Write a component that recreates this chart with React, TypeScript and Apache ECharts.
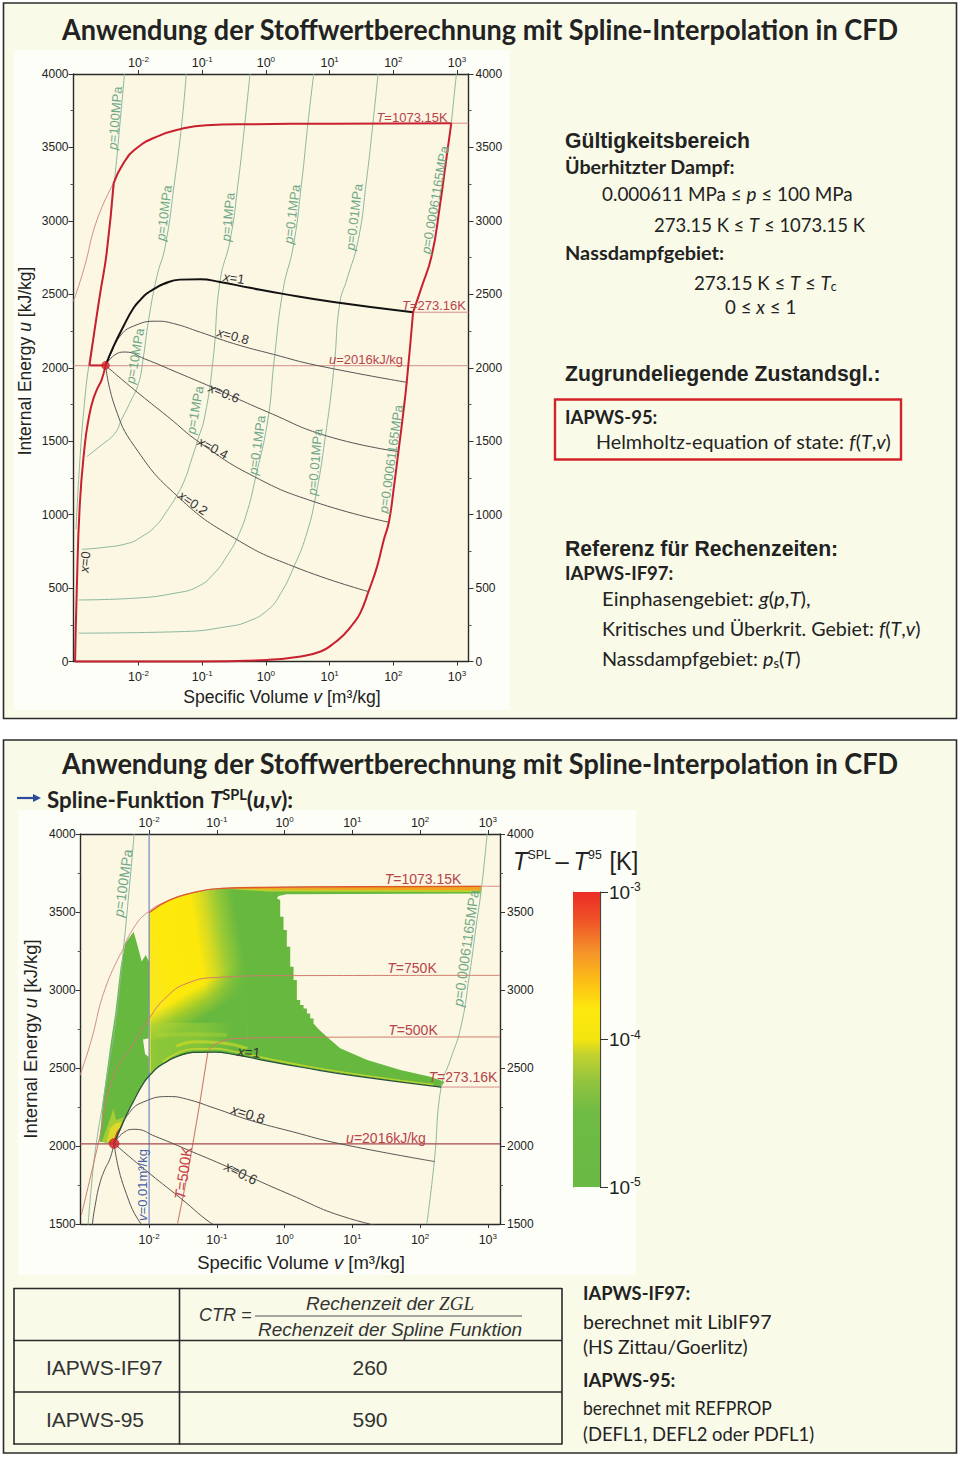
import React, { useEffect, useRef } from "react";
import * as echarts from "echarts";

type P = [number, number];

// tick lists
const decades = [-2, -1, 0, 1, 2, 3];
const colorDecades = [-5, -4, -3];

// all curves are [log10(v), u]
const t1073Liquid: P[] = [[-3.02, 2453], [-2.86, 2668], [-2.65, 3008], [-2.39, 3257]];
const t1073Hot: P[] = [[-2.39, 3257], [-2.235, 3393], [-2.03, 3495], [-1.71, 3574], [-1.35, 3624], [-0.93, 3651], [-0.25, 3658], [1.06, 3662], [2.91, 3665]];
const t1073Far: P[] = [[2.91, 3665], [3.18, 3665]];
const t750: P[] = [[-3.0, 1558], [-2.75, 2017], [-2.53, 2444], [-2.23, 2658], [-2, 2818], [-1.74, 2957], [-1.44, 3043], [-0.98, 3081], [-0.015, 3092], [3.18, 3094]];
const t500Wet: P[] = [[-1.58, 1504], [-1.37, 1974], [-1.13, 2610]];
const t500Vapor: P[] = [[-1.13, 2610], [-1.0, 2658], [-0.66, 2690], [0.23, 2697], [3.18, 2699]];
const t273: P[] = [[2.31, 2378], [3.18, 2378]];
const u2016: P[] = [[-3.02, 2014], [3.18, 2014]];
const v001: P[] = [[-2, 1500], [-2, 4000]];
const boundaryLeft: P[] = [[-2.39, 3257], [-2.5, 2781], [-2.6, 2510], [-2.68, 2283], [-2.77, 2016]];
const boundaryFlat: P[] = [[-2.77, 2016], [-2.517, 2016]];
const boundaryBottom: P[] = [[-2.995, 0], [-1.02, 0], [0.03, 11], [0.55, 34], [0.86, 68], [1.04, 115], [1.22, 181], [1.36, 252], [1.48, 329], [1.61, 476], [1.745, 646], [1.85, 828], [1.93, 948], [2.01, 1190], [2.08, 1429], [2.15, 1670], [2.21, 1900], [2.31, 2378]];
const boundaryRight: P[] = [[2.31, 2378], [2.44, 2544], [2.6, 2759], [2.73, 3099], [2.83, 3416], [2.91, 3665]];
const x0: P[] = [[-2.517, 2016], [-2.58, 1916], [-2.656, 1848], [-2.73, 1757], [-2.786, 1644], [-2.84, 1485], [-2.92, 1077], [-2.97, 465], [-2.995, 0]];
const x02: P[] = [[-2.517, 2016], [-2.37, 1735], [-2.06, 1463], [-1.38, 1122], [-0.49, 839], [0.44, 646], [1.61, 476]];
const x04: P[] = [[-2.517, 2016], [-2.06, 1848], [-1.54, 1667], [-1.02, 1485], [-0.18, 1258], [0.755, 1088], [1.93, 948]];
const x06: P[] = [[-2.517, 2016], [-2.38, 2085], [-2.21, 2107], [-1.9, 2060], [-1.37, 1964], [-0.85, 1868], [0.02, 1700], [0.96, 1535], [2.08, 1429]];
const x08: P[] = [[-2.517, 2016], [-2.44, 2090], [-2.29, 2215], [-2.08, 2283], [-1.71, 2317], [-1.45, 2301], [-1.03, 2242], [-0.51, 2165], [0.12, 2091], [0.8, 2016], [2.22, 1900]];
const x1: P[] = [[-2.517, 2016], [-2.39, 2147], [-2.235, 2283], [-2.08, 2405], [-1.97, 2462], [-1.87, 2505], [-1.74, 2540], [-1.61, 2570], [-1.35, 2600], [-1.03, 2602], [-0.72, 2584], [-0.25, 2544], [0.27, 2503], [1.06, 2448], [2.31, 2378]];
const p100: P[] = [[-2.22, 4000], [-2.29, 3665], [-2.37, 3302], [-2.5, 2781], [-2.6, 2510], [-2.68, 2283], [-2.78, 2016], [-2.85, 1750], [-2.92, 1370], [-2.98, 900]];
const p10: P[] = [[-1.25, 4000], [-1.32, 3665], [-1.43, 3280], [-1.58, 2827], [-1.71, 2623], [-1.84, 2329], [-1.93, 2052], [-2.0, 1893], [-2.14, 1757], [-2.27, 1644], [-2.37, 1553], [-2.58, 1474], [-2.81, 1395]];
const p1: P[] = [[-0.25, 4000], [-0.33, 3665], [-0.43, 3280], [-0.56, 2872], [-0.72, 2590], [-0.83, 2052], [-0.96, 1667], [-1.07, 1508], [-1.17, 1372], [-1.276, 1236], [-1.41, 1122], [-1.56, 1020], [-1.74, 918], [-1.95, 850], [-2.16, 805], [-2.58, 775], [-2.89, 764]];
const p01: P[] = [[0.75, 4000], [0.66, 3665], [0.56, 3257], [0.43, 2827], [0.27, 2533], [0.13, 2052], [0.03, 1644], [-0.16, 1258], [-0.286, 1032], [-0.44, 850], [-0.6, 726], [-0.81, 601], [-1.07, 510], [-1.43, 465], [-2.06, 431], [-2.94, 419]];
const p001: P[] = [[1.76, 4000], [1.68, 3665], [1.58, 3280], [1.45, 2872], [1.27, 2600], [1.16, 2442], [1.07, 2007], [0.94, 1553], [0.78, 1122], [0.625, 850], [0.44, 646], [0.234, 465], [0.03, 351], [-0.286, 272], [-0.6, 238], [-1.28, 204], [-2.94, 193]];
const pTripleTop: P[] = [[2.99, 4000], [2.91, 3665]];
const pTripleAll: P[] = [[2.99, 4000], [2.91, 3665], [2.83, 3416], [2.73, 3099], [2.6, 2759], [2.44, 2544], [2.31, 2378], [2.21, 1900], [2.1, 1500]];
const criticalPoint: P[] = [[-2.517, 2016]];

// error map outlines
const heatLobe: P[] = [[-2.23, 3374], [-2.35, 3300], [-2.42, 3150], [-2.5, 2850], [-2.575, 2637], [-2.674, 2316], [-2.733, 2028], [-2.517, 2016], [-2.39, 2147], [-2.235, 2283], [-2.08, 2405], [-2, 2450], [-2.005, 2570], [-2.06, 2590], [-2.09, 2683], [-2.005, 2690], [-2.0, 3180], [-2.05, 3224], [-2.11, 3182], [-2.18, 3300]];
const heatMain: P[] = [[-2, 3495], [-1.71, 3574], [-1.35, 3624], [-0.93, 3651], [-0.25, 3658], [1.06, 3662], [2.9, 3664], [2.9, 3618], [0.03, 3613], [-0.09, 3602], [-0.114, 3587], [-0.065, 3577], [-0.065, 3470], [-0.016, 3470], [-0.016, 3384], [0.033, 3384], [0.033, 3278], [0.083, 3278], [0.083, 3149], [0.132, 3149], [0.132, 3064], [0.181, 3064], [0.181, 2936], [0.23, 2936], [0.23, 2904], [0.28, 2904], [0.28, 2882], [0.329, 2882], [0.329, 2850], [0.378, 2850], [0.378, 2818], [0.427, 2818], [0.427, 2786], [0.5, 2750], [0.624, 2701], [0.82, 2626], [1.22, 2551], [1.71, 2487], [2.15, 2444], [2.36, 2412], [2.31, 2378], [1.06, 2448], [0.27, 2503], [-0.25, 2544], [-0.72, 2584], [-1.03, 2602], [-1.35, 2600], [-1.61, 2570], [-1.87, 2505], [-2, 2450]];
const heatYellow: P[] = [[-2, 3495], [-1.71, 3574], [-1.35, 3624], [-0.93, 3651], [-0.55, 3655], [-0.55, 2680], [-2, 2680]];
const heatYellowAnchors: P[] = [[-2, 3299], [-0.67, 3397]];
const heatFade: P[] = [[-2, 2844], [-0.55, 3201], [-0.55, 2590], [-1.03, 2602], [-1.35, 2600], [-1.61, 2570], [-1.87, 2505], [-2, 2450]];
const heatFadeAnchors: P[] = [[-1.54, 2957], [-1.32, 2790]];
const heatPale: P[] = [[-2, 2790], [-0.75, 2790], [-0.75, 2600], [-1.03, 2610], [-1.35, 2610], [-1.61, 2580], [-1.87, 2515], [-2, 2460]];
const heatPaleAnchors: P[] = [[-2, 2700], [-0.75, 2700]];
const stripYellow: P[] = [[-0.95, 3650], [-0.25, 3656], [2.9, 3655], [2.9, 3628], [-0.25, 3632]];
const stripOrange: P[] = [[-0.95, 3652], [-0.25, 3660], [2.9, 3664], [2.9, 3640], [-0.25, 3645]];
const lobeYellowOuter: P[] = [[-2.699, 2028], [-2.6, 2145], [-2.527, 2241], [-2.487, 2167], [-2.354, 2188], [-2.404, 2124], [-2.478, 2049], [-2.527, 2017]];
const lobeYellowInner: P[] = [[-2.625, 2028], [-2.576, 2113], [-2.502, 2145], [-2.404, 2156], [-2.453, 2081], [-2.517, 2021]];
const lobeRed: P[] = [[-2.537, 2021], [-2.478, 2092], [-2.418, 2124], [-2.453, 2070], [-2.502, 2017]];
const rimX1: P[] = [[-1.8, 2540], [-1.6, 2592], [-1.35, 2622], [-1.03, 2624], [-0.72, 2604], [-0.25, 2560], [0.27, 2516], [1.06, 2460], [2.2, 2392]];
const rimPeak: P[] = [[-1.6, 2640], [-1.3, 2668], [-0.95, 2662], [-0.55, 2625]];
const rimBand: P[] = [[-1.9, 2711], [-1.4, 2716], [-0.85, 2711]];
const rimEdge: P[] = [[-1.99, 2470], [-1.99, 2840]];
const t1073Tint: P[] = [[-2, 3495], [-1.71, 3574], [-1.35, 3624], [-0.93, 3651], [-0.25, 3658], [1.06, 3662], [2.9, 3664]];
const colorBarBox: P[] = [[0, -5], [1, -5], [1, -3], [0, -3]];

const ARIAL = "'Liberation Sans', Arial, sans-serif";
const CALIBRI = "Lato, 'Noto Sans', sans-serif";
const RED = "#C9202F";
const THIN_RED = "#D38D88";
const GREEN = "#8DB89E";
const GREEN_TXT = "#6FA887";
const RED_TXT = "#B8434B";
const HEAT_GREEN = "#66B83F";

const txt = (text: string, x: number, y: number, o: any = {}) => ({
  type: "text",
  x,
  y,
  z: 20,
  rotation: ((o.rot || 0) * Math.PI) / 180,
  scaleX: o.sx || 1,
  silent: true,
  style: {
    text,
    fontFamily: o.font || ARIAL,
    fontSize: o.size || 13,
    fontWeight: o.bold ? "bold" : "normal",
    fontStyle: o.italic ? "italic" : "normal",
    fill: o.color || "#222",
    align: o.align || "left",
    verticalAlign: "middle",
    rich: o.rich,
  },
});

const it = (size: number, font = ARIAL, color = "#222", bold = false) => ({
  i: { fontStyle: "italic", fontSize: size, fontFamily: font, fill: color, color, fontWeight: bold ? "bold" : "normal" },
});

const varLabel = (t: string, x: number, y: number, color: string, rot = 0, size = 13) =>
  txt(`{i|${t[0]}}${t.slice(1)}`, x, y, { color, rot, size, align: "center", rich: it(size, ARIAL, color) });

const curveLabels1 = [
  varLabel("p=100MPa", 115, 118, GREEN_TXT, 85), varLabel("p=10MPa", 164, 213, GREEN_TXT, 83),
  varLabel("p=1MPa", 228, 217, GREEN_TXT, 85), varLabel("p=0.1MPa", 292, 214, GREEN_TXT, 83),
  varLabel("p=0.01MPa", 354, 217, GREEN_TXT, 83), varLabel("p=0.00061165MPa", 435, 200, GREEN_TXT, 80),
  varLabel("p=10MPa", 135, 356, GREEN_TXT, 80), varLabel("p=1MPa", 195, 410, GREEN_TXT, 80),
  varLabel("p=0.1MPa", 257, 445, GREEN_TXT, 82), varLabel("p=0.01MPa", 315, 462, GREEN_TXT, 85),
  varLabel("p=0.00061165MPa", 391, 459, GREEN_TXT, 82),
  varLabel("T=1073.15K", 412, 117, RED_TXT), varLabel("T=273.16K", 434, 305, RED_TXT),
  varLabel("u=2016kJ/kg", 366, 359, RED_TXT),
  varLabel("x=1", 234, 278, "#333", -8), varLabel("x=0.8", 233, 336, "#333", -15),
  varLabel("x=0.6", 224, 393, "#333", -22), varLabel("x=0.4", 213, 448, "#333", -28),
  varLabel("x=0.2", 193, 503, "#333", -35), varLabel("x=0", 85, 562, "#333", 85),
];
const curveLabels2 = [
  varLabel("p=100MPa", 123, 883, GREEN_TXT, 82, 14), varLabel("p=0.00061165MPa", 466, 948, GREEN_TXT, 82, 14),
  varLabel("T=1073.15K", 423, 879, RED_TXT, 0, 14), varLabel("T=750K", 412, 968, RED_TXT, 0, 14),
  varLabel("T=500K", 413, 1030, RED_TXT, 0, 14), varLabel("T=273.16K", 463, 1077, RED_TXT, 0, 14),
  varLabel("x=1", 249, 1052, "#333", -5, 14), varLabel("x=0.8", 248, 1114, "#333", -18, 14),
  varLabel("x=0.6", 241, 1173, "#333", -27, 14), varLabel("u=2016kJ/kg", 386, 1138, RED_TXT, 0, 14),
  txt("{i|v}=0.01m³/kg", 142, 1185, { color: "#4A5FA8", rot: 90, size: 13, align: "center", rich: it(13, ARIAL, "#4A5FA8") }),
  varLabel("T=500K", 183, 1173, "#C8414A", 82, 15),
];

const rule = (x1p: number, y1p: number, x2p: number, y2p: number, stroke = "#2a2a2a", w = 1.6) => ({
  type: "line", z: 5, silent: true, shape: { x1: x1p, y1: y1p, x2: x2p, y2: y2p }, style: { stroke, lineWidth: w },
});

const cal = (t: string, x: number, y: number, o: any = {}) => {
  const size = o.size || 19.5;
  return txt(t, x, y - 1, {
    font: CALIBRI, size, sx: o.sx || 0.95, bold: o.bold, color: "#222",
    rich: {
      i: { fontStyle: "italic", fontFamily: CALIBRI, fontSize: size, fill: "#222", color: "#222", fontWeight: o.bold ? "bold" : "normal" },
      s: { fontFamily: CALIBRI, fontSize: size * 0.65, fill: "#222", color: "#222", fontWeight: o.bold ? "bold" : "normal", padding: [0, 0, 10, 0] },
      d: { fontFamily: CALIBRI, fontSize: size * 0.65, fill: "#222", color: "#222", padding: [8, 0, 0, 0] },
    },
  });
};

const backdrop = (x: number, y: number, w: number, h: number, fill: string, stroke?: string, lw = 1.5) => ({
  type: "rect", z: -5, silent: true, shape: { x, y, width: w, height: h }, style: { fill, stroke, lineWidth: lw },
});

const graphics: any[] = [
  backdrop(3.5, 3, 953, 715.5, "#F9FAE8", "#2b2b2b", 1.6),
  backdrop(3.5, 740, 953, 713, "#F9FAE8", "#2b2b2b", 1.6),
  backdrop(14, 50, 496, 660, "#FDFEF7"),
  backdrop(18, 810, 618, 465, "#FDFEF7"),
  txt("Anwendung der Stoffwertberechnung mit Spline-Interpolation in CFD", 62, 29, { font: CALIBRI, size: 28.5, bold: true, sx: 0.95 }),
  txt("Anwendung der Stoffwertberechnung mit Spline-Interpolation in CFD", 62, 763, { font: CALIBRI, size: 28.5, bold: true, sx: 0.95 }),
  txt("Gültigkeitsbereich", 565, 140, { size: 21.2, bold: true }),
  cal("Überhitzter Dampf:", 565, 168, { bold: true, sx: 1.01 }),
  cal("0.000611 MPa ≤ {i|p} ≤ 100 MPa", 602, 194, { sx: 0.968 }),
  cal("273.15 K ≤ {i|T} ≤ 1073.15 K", 654, 225, { sx: 0.948 }),
  cal("Nassdampfgebiet:", 565, 254, { bold: true, sx: 1.02 }),
  cal("273.15 K ≤ {i|T} ≤ {i|T}{d|c}", 694, 283, { sx: 0.957 }),
  cal("0 ≤ {i|x} ≤ 1", 725, 307, { sx: 0.96 }),
  txt("Zugrundeliegende Zustandsgl.:", 565, 373, { size: 21.2, bold: true }),
  { type: "rect", z: 5, silent: true, shape: { x: 555, y: 399.5, width: 346, height: 60 }, style: { fill: "none", stroke: "#D2232A", lineWidth: 2.4 } },
  cal("IAPWS-95:", 565, 417, { bold: true, sx: 0.95 }),
  cal("Helmholtz-equation of state: {i|f}({i|T},{i|v})", 596, 443, { sx: 1.012 }),
  txt("Referenz für Rechenzeiten:", 565, 548, { size: 21.2, bold: true }),
  cal("IAPWS-IF97:", 565, 573, { bold: true, sx: 0.95 }),
  cal("Einphasengebiet: {i|g}({i|p},{i|T}),", 602, 599, { sx: 1.04 }),
  cal("Kritisches und Überkrit. Gebiet: {i|f}({i|T},{i|v})", 602, 630, { sx: 1.009 }),
  cal("Nassdampfgebiet: {i|p}{d|s}({i|T})", 602, 660, { sx: 1.017 }),
  txt("Specific Volume {i|v} [m³/kg]", 282, 697, { size: 17.6, align: "center", rich: it(17.6) }),
  txt("Internal Energy {i|u} [kJ/kg]", 25, 361, { size: 17.5, align: "center", rot: 90, rich: it(17.5) }),
  txt("Specific Volume {i|v} [m³/kg]", 301, 1262, { size: 18.5, align: "center", rich: it(18.5) }),
  txt("Internal Energy {i|u} [kJ/kg]", 30, 1039, { size: 18.5, align: "center", rot: 90, rich: it(18.5) }),
  rule(17, 798, 37, 798, "#2B4C9B", 2.2),
  { type: "polygon", z: 5, silent: true, shape: { points: [[33, 794], [41, 798], [33, 802]] }, style: { fill: "#2B4C9B" } },
  cal("Spline-Funktion {i|T}{s|SPL}({i|u},{i|v}):", 47, 800, { bold: true, size: 23.5, sx: 0.95 }),
  txt("{t|T}{s|SPL}{m|–}{t|T}{s|95}{k|[K]}", 513, 861, {
    size: 25, sx: 0.95,
    rich: {
      t: { fontStyle: "italic", fontFamily: ARIAL, fontSize: 25, fill: "#222", color: "#222" },
      s: { fontFamily: ARIAL, fontSize: 13, fill: "#222", color: "#222", padding: [0, 0, 12, 0] },
      m: { fontFamily: ARIAL, fontSize: 25, fill: "#222", color: "#222", padding: [0, 5, 0, 5] },
      k: { fontFamily: ARIAL, fontSize: 25, fill: "#222", color: "#222", padding: [0, 0, 0, 8] },
    },
  }),
  // table rules
  rule(13.5, 1288.5, 562, 1288.5), rule(13.5, 1340.5, 562, 1340.5), rule(13.5, 1392, 562, 1392), rule(13.5, 1444, 562, 1444),
  rule(14, 1288, 14, 1444.5), rule(179.5, 1288, 179.5, 1444.5), rule(562, 1288, 562, 1444.5),
  rule(255, 1316, 522, 1316, "#555", 1.2),
  txt("{i|Rechenzeit der }{z|ZGL}", 390, 1303, {
    size: 19, align: "center", color: "#333",
    rich: { i: { fontStyle: "italic", fontFamily: ARIAL, fontSize: 19, fill: "#333", color: "#333" }, z: { fontStyle: "italic", fontFamily: "'Liberation Serif', serif", fontSize: 19, fill: "#333", color: "#333" } },
  }),
  txt("CTR =", 199, 1315, { size: 18, italic: true, color: "#333" }),
  txt("Rechenzeit der Spline Funktion", 390, 1329, { size: 19, italic: true, align: "center", color: "#333" }),
  txt("IAPWS-IF97", 46, 1367, { size: 21, color: "#333" }),
  txt("260", 370, 1367, { size: 21, align: "center", color: "#333" }),
  txt("IAPWS-95", 46, 1419, { size: 21, color: "#333" }),
  txt("590", 370, 1419, { size: 21, align: "center", color: "#333" }),
  cal("IAPWS-IF97:", 583, 1293, { bold: true, sx: 0.94 }),
  cal("berechnet mit LibIF97", 583, 1322, { sx: 1.0 }),
  cal("(HS Zittau/Goerlitz)", 583, 1347, { sx: 0.984 }),
  cal("IAPWS-95:", 583, 1380, { bold: true, sx: 0.95 }),
  cal("berechnet mit REFPROP", 583, 1409, { sx: 0.9 }),
  cal("(DEFL1, DEFL2 oder PDFL1)", 583, 1434, { sx: 0.946 }),
  ...curveLabels1,
  ...curveLabels2,
];

const powerLabel = (v: number) => `{b|10}{s|${v}}`;
const powerRich = (b: number, s: number, pad: number) => ({
  b: { fontFamily: ARIAL, fontSize: b, color: "#222" },
  s: { fontFamily: ARIAL, fontSize: s, color: "#222", padding: [0, 0, pad, 0] },
});

const xAxis = (grid: number, position: string, min: number, max: number) => ({
  type: "value", gridIndex: grid, position, min, max,
  splitLine: { show: false },
  axisLine: { onZero: false, lineStyle: { color: "#2a2a2a", width: 1.4 } },
  axisTick: { show: true, length: 4, customValues: decades, lineStyle: { color: "#333", width: 1 } },
  axisLabel: { show: true, customValues: decades, margin: position === "bottom" ? 8 : 4, formatter: powerLabel, rich: powerRich(12.5, 8, 7) },
});
const yAxis = (grid: number, position: string, min: number, max: number) => ({
  type: "value", gridIndex: grid, position, min, max, interval: 500,
  splitLine: { show: false },
  axisLine: { show: true, onZero: false, lineStyle: { color: "#2a2a2a", width: 1.4 } },
  axisTick: { show: true, length: 5, lineStyle: { color: "#333", width: 1 } },
  minorTick: { show: true, splitNumber: 2, length: 3, lineStyle: { color: "#555", width: 1 } },
  minorSplitLine: { show: false },
  axisLabel: { show: true, margin: position === "right" ? 7 : 5, fontFamily: ARIAL, fontSize: 12, color: "#222", formatter: (v: number) => String(v) },
});

const line = (name: string, data: P[], chart: number, color: string, width: number, clip = true, smooth: number | boolean = 0.5): any => ({
  type: "line", name, data, xAxisIndex: chart * 2, yAxisIndex: chart * 2, smooth,
  showSymbol: false, symbol: "none", clip, silent: true,
  lineStyle: { color, width },
});

const polygon = (name: string, data: P[], chart: number, fill: any): any => ({
  type: "custom", name, data, xAxisIndex: chart * 2, yAxisIndex: chart * 2, silent: true, clip: true,
  encode: { x: 0, y: 1 },
  renderItem: (params: any, api: any) => {
    if (params.dataIndex !== 0) return null;
    const points = data.map((d) => api.coord(d));
    return { type: "polygon", shape: { points }, style: { fill: typeof fill === "function" ? fill(api) : fill, stroke: "none" } };
  },
});

const tilted = (anchors: P[], stops: [number, string][]) => (api: any) => {
  const a = api.coord(anchors[0]);
  const b = api.coord(anchors[1]);
  return new echarts.graphic.LinearGradient(a[0], a[1], b[0], b[1], stops.map(([offset, color]) => ({ offset, color })), true);
};

const colorBarFill = new echarts.graphic.LinearGradient(0, 0, 0, 1, [
  { offset: 0, color: "#EC2B25" }, { offset: 0.1, color: "#EF5527" }, { offset: 0.2, color: "#F5922A" },
  { offset: 0.3, color: "#FCBC16" }, { offset: 0.4, color: "#FDE90D" }, { offset: 0.5, color: "#F3E40F" },
  { offset: 0.55, color: "#C3D22F" }, { offset: 0.65, color: "#8FC340" }, { offset: 0.75, color: "#6FBB44" }, { offset: 1, color: "#69B945" },
]);

const seriesList: any[] = [
  // upper chart
  line("p=100MPa", p100, 0, GREEN, 1, false), line("p=10MPa", p10, 0, GREEN, 1, false),
  line("p=1MPa", p1, 0, GREEN, 1, false), line("p=0.1MPa", p01, 0, GREEN, 1, false),
  line("p=0.01MPa", p001, 0, GREEN, 1, false), line("p=0.00061165MPa", pTripleTop, 0, GREEN, 1, false),
  line("u=2016", u2016, 0, THIN_RED, 1, false), line("T=273.16K", t273, 0, THIN_RED, 1, false),
  line("T=1073.15K liquid", t1073Liquid, 0, THIN_RED, 1, false), line("T=1073.15K far", t1073Far, 0, THIN_RED, 1, false),
  line("x=0.2", x02, 0, "#555", 1, false), line("x=0.4", x04, 0, "#555", 1, false),
  line("x=0.6", x06, 0, "#555", 1, false), line("x=0.8", x08, 0, "#555", 1, false),
  line("x=1", x1, 0, "#111", 2, false),
  line("x=0", x0, 0, RED, 2, false), line("T=1073.15K", t1073Hot, 0, RED, 2, false),
  line("left", boundaryLeft, 0, RED, 2, false), line("flat", boundaryFlat, 0, RED, 2, false, false),
  line("bottom", boundaryBottom, 0, RED, 2, false), line("right", boundaryRight, 0, RED, 2, false),
  {
    type: "scatter", data: criticalPoint, xAxisIndex: 0, yAxisIndex: 0, symbolSize: 8, silent: true, z: 5,
    itemStyle: { color: "#D8232B", borderColor: "#A01A20", borderWidth: 0.5 },
  },
  // lower chart: error map
  polygon("lobe", heatLobe, 1, HEAT_GREEN),
  polygon("main", heatMain, 1, HEAT_GREEN),
  polygon("yellow", heatYellow, 1, tilted(heatYellowAnchors, [[0, "#FAE81C"], [0.15, "#FEE90C"], [0.52, "#FDE80C"], [0.66, "#D6DA22"], [0.82, "#96C936"], [1, HEAT_GREEN]])),
  polygon("fade", heatFade, 1, tilted(heatFadeAnchors, [[0, "rgba(102,184,63,0)"], [0.5, "rgba(102,184,63,0.6)"], [1, "rgba(102,184,63,1)"]])),
  polygon("pale", heatPale, 1, tilted(heatPaleAnchors, [[0, "rgba(176,212,50,0.55)"], [0.6, "rgba(176,212,50,0.4)"], [1, "rgba(176,212,50,0)"]])),
  polygon("stripYellow", stripYellow, 1, "#BFD02E"),
  polygon("stripOrange", stripOrange, 1, "#F1A41D"),
  polygon("lobeYellowOuter", lobeYellowOuter, 1, "#A5CC35"),
  polygon("lobeYellowInner", lobeYellowInner, 1, "#DDD92A"),
  polygon("lobeRed", lobeRed, 1, "#D8432A"),
  polygon("colorbar", colorBarBox, 2, colorBarFill),
  line("band", rimBand, 1, "rgba(190,216,50,0.35)", 4),
  line("peak", rimPeak, 1, "rgba(222,224,34,0.55)", 3),
  line("rim", rimX1, 1, "rgba(205,218,44,0.8)", 1.6),
  line("edge", rimEdge, 1, "#E6DE2A", 2, true, false),
  line("v=0.01", v001, 1, "#7388C4", 1.2, true, false),
  line("p100", p100, 1, GREEN, 1), line("pTriple", pTripleAll, 1, GREEN, 1),
  line("T1073liq", t1073Liquid, 1, THIN_RED, 1), line("T1073", t1073Hot, 1, THIN_RED, 1), line("T1073far", t1073Far, 1, THIN_RED, 1),
  line("T1073tint", t1073Tint, 1, "#DD5B26", 1.3),
  line("T750", t750, 1, "#CF7C6C", 1), line("T500a", t500Wet, 1, "#CF7C6C", 1.1), line("T500b", t500Vapor, 1, "#CF7C6C", 1),
  line("T273", t273, 1, THIN_RED, 1), line("u2016", u2016, 1, "#A9474D", 1.2),
  line("x0", x0, 1, "#555", 1), line("x02", x02, 1, "#555", 1), line("x04", x04, 1, "#555", 1),
  line("x06", x06, 1, "#555", 1), line("x08", x08, 1, "#555", 1), line("x1", x1, 1, "#27503A", 1.2),
  {
    type: "scatter", data: criticalPoint, xAxisIndex: 2, yAxisIndex: 2, symbolSize: 10, silent: true, z: 5,
    itemStyle: { color: "#CF2128", borderColor: "#A01A20", borderWidth: 0.5 },
  },
];

export default function App() {
  const ref = useRef<HTMLDivElement>(null);
  useEffect(() => {
    const chart = echarts.init(ref.current!, undefined, { renderer: "svg" });
    chart.setOption({
      animation: false,
      backgroundColor: "#FFFFFF",
      tooltip: { show: false },
      grid: [
        { left: 73.5, top: 74, width: 395, height: 587.5, show: true, backgroundColor: "#FBF7E3", borderWidth: 0 },
        { left: 80.7, top: 834, width: 419.3, height: 390, show: true, backgroundColor: "#FBF7E3", borderWidth: 0 },
        { left: 573, top: 892, width: 27, height: 295 },
      ],
      xAxis: [
        xAxis(0, "bottom", -3.02, 3.18), xAxis(0, "top", -3.02, 3.18),
        xAxis(1, "bottom", -3.01, 3.18), xAxis(1, "top", -3.01, 3.18),
        { type: "value", gridIndex: 2, min: 0, max: 1, show: false },
        { type: "value", gridIndex: 2, min: 0, max: 1, show: false, position: "top" },
      ],
      yAxis: [
        yAxis(0, "left", 0, 4000), yAxis(0, "right", 0, 4000),
        yAxis(1, "left", 1500, 4000), yAxis(1, "right", 1500, 4000),
        {
          type: "value", gridIndex: 2, position: "right", min: -5, max: -3, splitLine: { show: false },
          axisLine: { show: true, onZero: false, lineStyle: { color: "#444", width: 1.2 } },
          axisTick: { show: true, length: 8, customValues: colorDecades, lineStyle: { color: "#333" } },
          axisLabel: { show: true, margin: 9, customValues: colorDecades, formatter: powerLabel, rich: powerRich(19, 12, 10) },
        },
        { type: "value", gridIndex: 2, position: "left", min: -5, max: -3, show: true, splitLine: { show: false }, axisTick: { show: false }, axisLabel: { show: false }, axisLine: { show: true, onZero: false, lineStyle: { color: "#555", width: 1 } } },
      ],
      graphic: graphics,
      series: seriesList,
    });
    return () => chart.dispose();
  }, []);
  return <div ref={ref} style={{ position: "absolute", left: 0, top: 0, width: 960, height: 1457 }} />;
}
